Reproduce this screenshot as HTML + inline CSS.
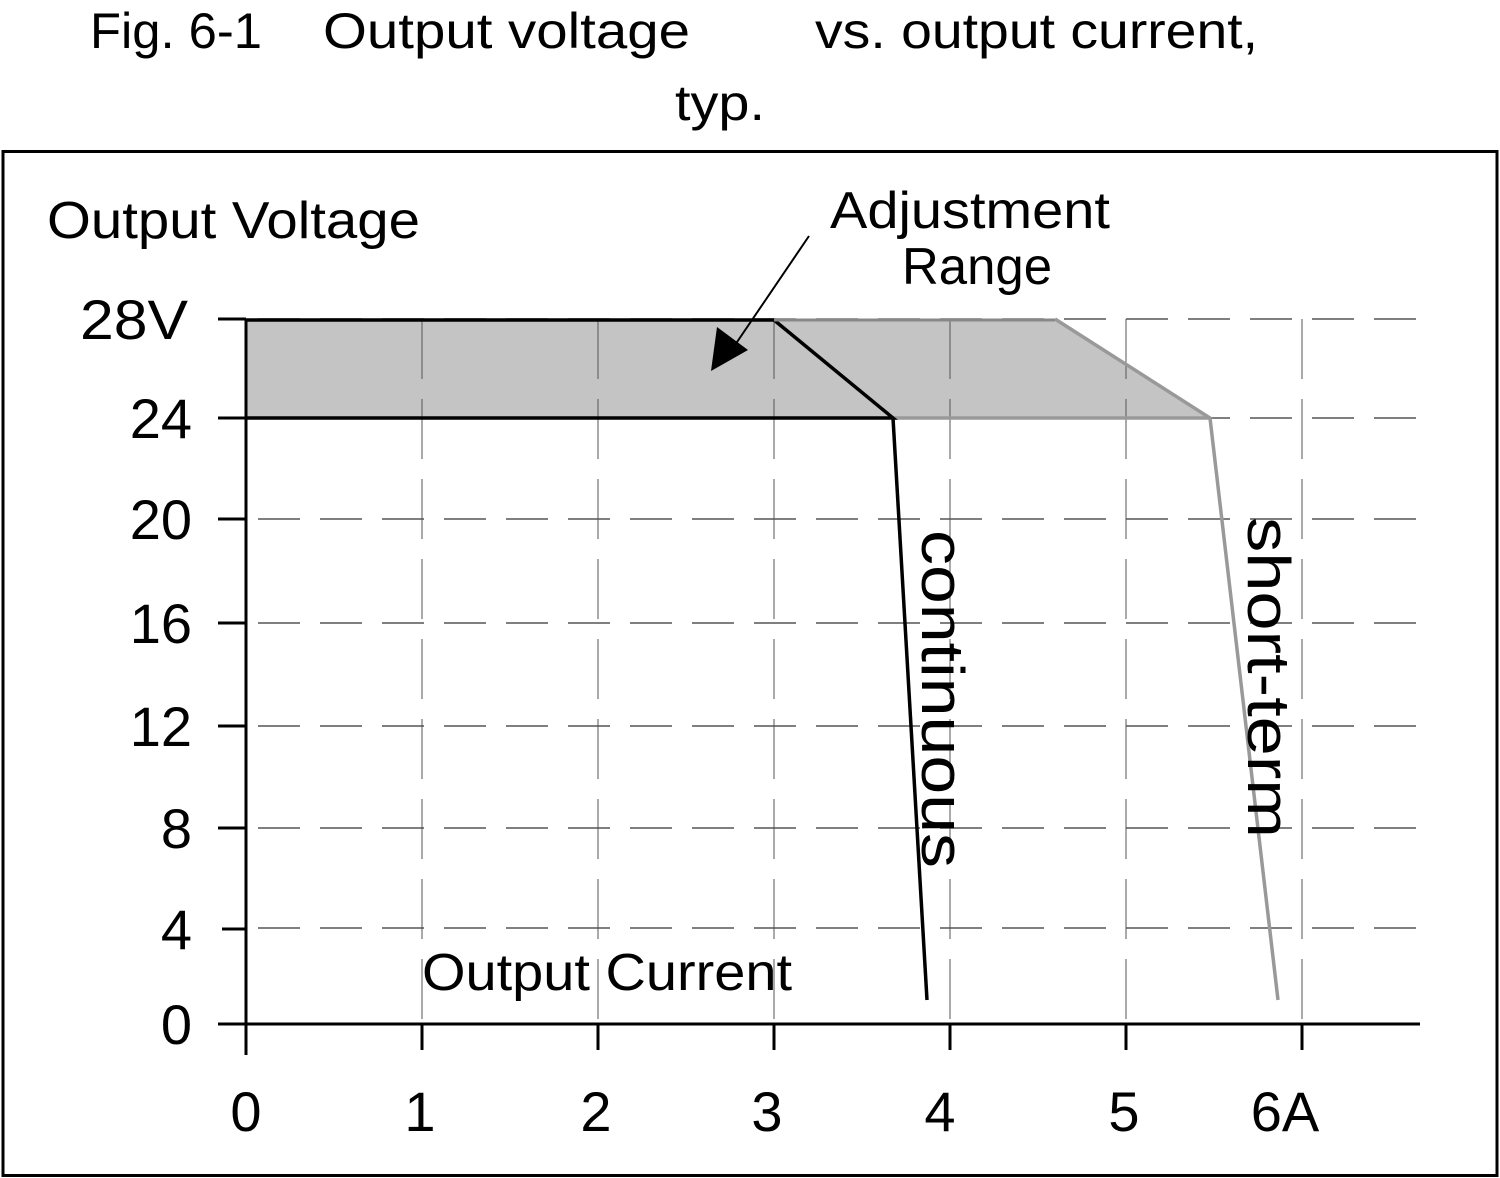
<!DOCTYPE html>
<html><head><style>
body{margin:0;background:#fff;}
svg{display:block}
text{font-family:"Liberation Sans",sans-serif;fill:#000}
</style></head><body>
<svg width="1500" height="1178" viewBox="0 0 1500 1178">
<text x="90" y="48" font-size="50" textLength="172" lengthAdjust="spacingAndGlyphs">Fig. 6-1</text>
<text x="323" y="48" font-size="50" textLength="367" lengthAdjust="spacingAndGlyphs">Output voltage</text>
<text x="815" y="48" font-size="50" textLength="443" lengthAdjust="spacingAndGlyphs">vs. output current,</text>
<text x="675" y="120" font-size="50" textLength="90" lengthAdjust="spacingAndGlyphs">typ.</text>
<rect x="3" y="151.5" width="1494" height="1024" fill="none" stroke="#000" stroke-width="3"/>
<polygon points="246,319 1055,319 1210,418 246,418" fill="#c3c4c3"/>
<g stroke="#555" stroke-width="1.5" stroke-dasharray="42,20">
<line x1="258" y1="319" x2="1420" y2="319"/>
<line x1="258" y1="418" x2="1420" y2="418"/>
<line x1="258" y1="519" x2="1420" y2="519"/>
<line x1="258" y1="623" x2="1420" y2="623"/>
<line x1="258" y1="726" x2="1420" y2="726"/>
<line x1="258" y1="828" x2="1420" y2="828"/>
<line x1="258" y1="928" x2="1420" y2="928"/>
</g>
<g stroke="#555" stroke-width="1" stroke-dasharray="60,20">
<line x1="422" y1="319" x2="422" y2="1024"/>
<line x1="598" y1="319" x2="598" y2="1024"/>
<line x1="774" y1="319" x2="774" y2="1024"/>
<line x1="950" y1="319" x2="950" y2="1024"/>
<line x1="1126" y1="319" x2="1126" y2="1024"/>
<line x1="1302" y1="319" x2="1302" y2="1024"/>
</g>
<g stroke="#000" stroke-width="3">
<line x1="246" y1="319" x2="246" y2="1055"/>
<line x1="218" y1="1024" x2="1420" y2="1024"/>
<line x1="218" y1="319" x2="246" y2="319"/>
<line x1="218" y1="418" x2="246" y2="418"/>
<line x1="218" y1="519" x2="246" y2="519"/>
<line x1="218" y1="623" x2="246" y2="623"/>
<line x1="218" y1="726" x2="246" y2="726"/>
<line x1="218" y1="828" x2="246" y2="828"/>
<line x1="222" y1="929" x2="246" y2="929"/>
<line x1="422" y1="1024" x2="422" y2="1050"/>
<line x1="598" y1="1024" x2="598" y2="1050"/>
<line x1="774" y1="1024" x2="774" y2="1050"/>
<line x1="950" y1="1024" x2="950" y2="1050"/>
<line x1="1126" y1="1024" x2="1126" y2="1050"/>
<line x1="1302" y1="1024" x2="1302" y2="1050"/>
</g>
<polyline points="1055,319 1210,418 1278,1000" fill="none" stroke="#999" stroke-width="3.5"/>
<line x1="893" y1="418" x2="1210" y2="418" stroke="#999" stroke-width="3.5"/>
<polyline points="246,320 774,320 893,418 246,418" fill="none" stroke="#000" stroke-width="3.5"/>
<polyline points="893,418 927,1000" fill="none" stroke="#000" stroke-width="3.5"/>
<line x1="774" y1="320" x2="1055" y2="320" stroke="#888" stroke-width="3"/>
<line x1="809" y1="236" x2="735" y2="345" stroke="#000" stroke-width="2"/>
<polygon points="711,371 717,327 748,350" fill="#000"/>
<text x="47" y="238" font-size="52" textLength="373" lengthAdjust="spacingAndGlyphs">Output Voltage</text>
<text x="830" y="228" font-size="52" textLength="280" lengthAdjust="spacingAndGlyphs">Adjustment</text>
<text x="902" y="284" font-size="52" textLength="150" lengthAdjust="spacingAndGlyphs">Range</text>
<g font-size="56" text-anchor="end">
<text x="188" y="339" textLength="108" lengthAdjust="spacingAndGlyphs">28V</text>
<text x="192" y="438">24</text>
<text x="192" y="539">20</text>
<text x="192" y="643">16</text>
<text x="192" y="746">12</text>
<text x="192" y="848">8</text>
<text x="192" y="949">4</text>
<text x="192" y="1044">0</text>
</g>
<g font-size="56" text-anchor="middle">
<text x="246" y="1131">0</text>
<text x="420" y="1131">1</text>
<text x="596" y="1131">2</text>
<text x="767" y="1131">3</text>
<text x="940" y="1131">4</text>
<text x="1124" y="1131">5</text>
<text x="1285" y="1131">6A</text>
</g>
<text x="422" y="990" font-size="52" textLength="370" lengthAdjust="spacingAndGlyphs">Output Current</text>
<text transform="translate(922,530) rotate(90)" font-size="60" textLength="338" lengthAdjust="spacingAndGlyphs">continuous</text>
<text transform="translate(1248,517) rotate(90)" font-size="60" textLength="321" lengthAdjust="spacingAndGlyphs">short-term</text>
</svg>
</body></html>
